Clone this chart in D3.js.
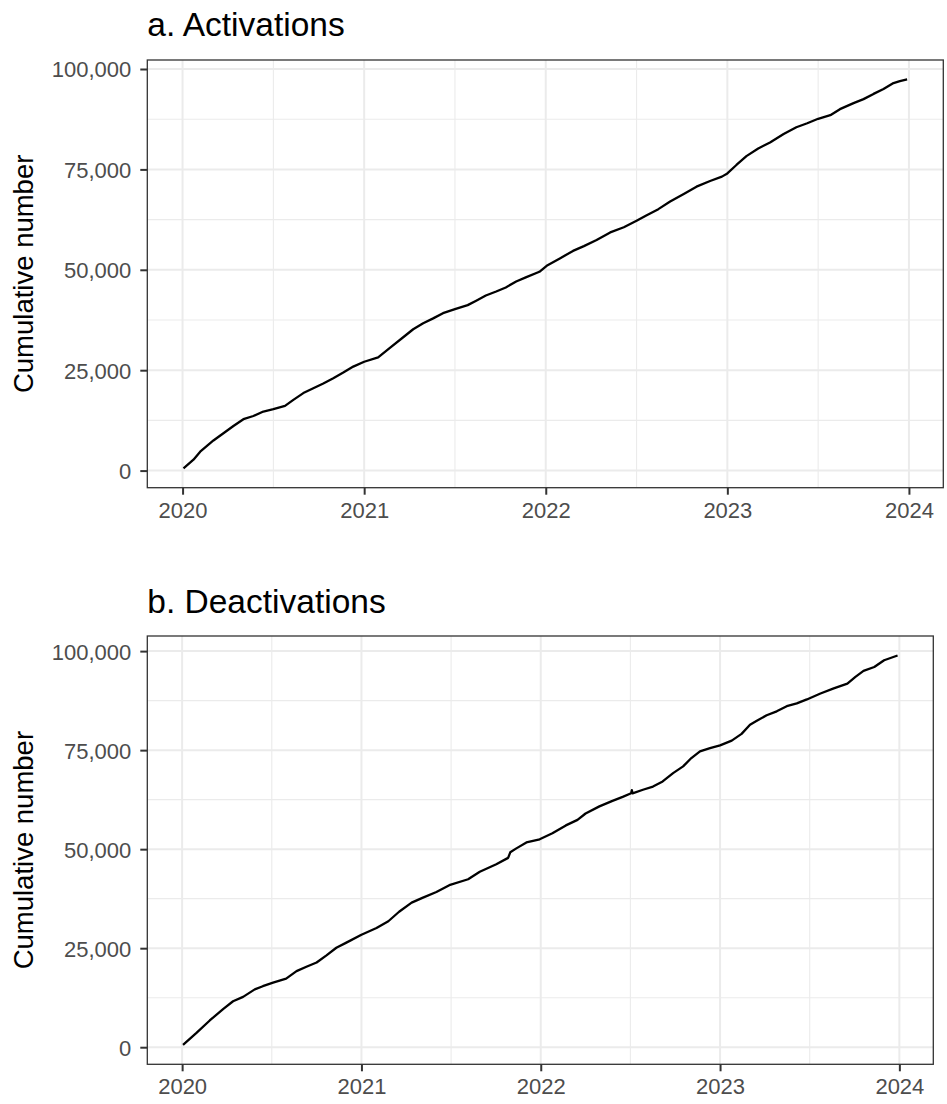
<!DOCTYPE html>
<html>
<head>
<meta charset="utf-8">
<script src="https://cdn.jsdelivr.net/npm/d3@7"></script>
<style>
  html, body { margin: 0; padding: 0; background: #fff; }
  svg { display: block; font-family: "Liberation Sans", Arial, sans-serif; }
</style>
</head>
<body>
<svg id="chart" width="947" height="1104"></svg>
<script>
// ---- Data (decimal years, cumulative counts) ----
const actYears = [2020.005, 2020.06, 2020.097, 2020.17, 2020.225, 2020.28, 2020.335, 2020.39, 2020.445, 2020.5,
  2020.564, 2020.61, 2020.665, 2020.72, 2020.775, 2020.83, 2020.885, 2020.94, 2021.0, 2021.077,
  2021.14, 2021.215, 2021.27, 2021.325, 2021.38, 2021.434, 2021.5, 2021.57, 2021.617, 2021.67,
  2021.727, 2021.78, 2021.837, 2021.89, 2021.965, 2022.005, 2022.08, 2022.15, 2022.21, 2022.28,
  2022.355, 2022.43, 2022.5, 2022.556, 2022.62, 2022.685, 2022.76, 2022.83, 2022.905, 2022.97,
  2023.0, 2023.05, 2023.105, 2023.17, 2023.235, 2023.31, 2023.38, 2023.44, 2023.5, 2023.567,
  2023.62, 2023.695, 2023.75, 2023.805, 2023.86, 2023.915, 2023.95, 2023.99];
const actValues = [580, 2700, 4700, 7500, 9300, 11100, 12800, 13600, 14700, 15300,
  16100, 17600, 19300, 20500, 21700, 23000, 24400, 25900, 27100, 28200,
  30500, 33200, 35200, 36700, 37900, 39200, 40200, 41200, 42300, 43600,
  44600, 45600, 47100, 48100, 49500, 51000, 52900, 54700, 55900, 57400,
  59300, 60600, 62200, 63600, 65100, 67000, 68900, 70700, 72100, 73200,
  74000, 76100, 78300, 80200, 81700, 83800, 85500, 86500, 87600, 88500,
  90000, 91500, 92500, 93800, 95000, 96500, 97000, 97400];

const deaYears = [2020.005, 2020.08, 2020.154, 2020.23, 2020.284, 2020.34, 2020.405, 2020.45, 2020.507, 2020.58,
  2020.638, 2020.693, 2020.75, 2020.805, 2020.86, 2020.916, 2021.0, 2021.084, 2021.15, 2021.21,
  2021.28, 2021.34, 2021.418, 2021.49, 2021.595, 2021.66, 2021.752, 2021.818, 2021.83, 2021.864,
  2021.92, 2021.994, 2022.065, 2022.14, 2022.205, 2022.25, 2022.327, 2022.4, 2022.457, 2022.504,
  2022.508, 2022.512, 2022.57, 2022.626, 2022.68, 2022.738, 2022.794, 2022.84, 2022.888, 2022.944,
  2023.0, 2023.065, 2023.12, 2023.167, 2023.205, 2023.26, 2023.316, 2023.372, 2023.428, 2023.484,
  2023.56, 2023.634, 2023.71, 2023.755, 2023.8, 2023.86, 2023.915, 2023.99];
const deaValues = [600, 3600, 6750, 9700, 11600, 12700, 14600, 15400, 16300, 17300,
  19200, 20300, 21400, 23200, 25100, 26400, 28400, 30100, 31800, 34200,
  36500, 37700, 39200, 40900, 42400, 44300, 46200, 47800, 49200, 50200,
  51700, 52500, 54000, 56000, 57400, 59000, 60800, 62200, 63200, 64100,
  64900, 64100, 65000, 65800, 67100, 69200, 70900, 73000, 74700, 75500,
  76200, 77400, 79100, 81400, 82400, 83800, 84800, 86100, 86800, 87800,
  89300, 90600, 91800, 93500, 95000, 96000, 97700, 98900];

const panelTitles = ["a. Activations", "b. Deactivations"];
const yTitle = "Cumulative number";
const xTickValues = [2020, 2021, 2022, 2023, 2024];
const yTickValues = [0, 25000, 50000, 75000, 100000];

// ---- Drawing ----
const svg = d3.select("#chart");
const panels = [
  { title: panelTitles[0], years: actYears, values: actValues, left: 147.3, right: 943.3, top: 60, bottom: 487.7, titleY: 36 },
  { title: panelTitles[1], years: deaYears, values: deaValues, left: 147.3, right: 933.3, top: 636, bottom: 1064.3, titleY: 613 }
];

function expand(ext, frac) {
  const d = ext[1] - ext[0];
  return [ext[0] - d * frac, ext[1] + d * frac];
}

panels.forEach(p => {
  const data = p.years.map((y, i) => ({ x: y, y: p.values[i] }));
  const x = d3.scaleLinear().domain(expand(d3.extent(p.years), 0.05)).range([p.left, p.right]);
  const y = d3.scaleLinear().domain(expand(d3.extent(p.values), 0.05)).range([p.bottom, p.top]);

  const g = svg.append("g");

  // panel background
  g.append("rect").attr("x", p.left).attr("y", p.top)
    .attr("width", p.right - p.left).attr("height", p.bottom - p.top).attr("fill", "#fff");

  // minor grid
  const xMinor = [2019.5, 2020.5, 2021.5, 2022.5, 2023.5, 2024.5].filter(v => x(v) > p.left && x(v) < p.right);
  const yMinor = [-12500, 12500, 37500, 62500, 87500, 112500].filter(v => y(v) > p.top && y(v) < p.bottom);
  g.selectAll(".xminor").data(xMinor).join("line")
    .attr("x1", d => x(d)).attr("x2", d => x(d)).attr("y1", p.top).attr("y2", p.bottom)
    .attr("stroke", "#EBEBEB").attr("stroke-width", 1.1);
  g.selectAll(".yminor").data(yMinor).join("line")
    .attr("y1", d => y(d)).attr("y2", d => y(d)).attr("x1", p.left).attr("x2", p.right)
    .attr("stroke", "#EBEBEB").attr("stroke-width", 1.1);

  // major grid
  g.selectAll(".xmajor").data(xTickValues).join("line")
    .attr("x1", d => x(d)).attr("x2", d => x(d)).attr("y1", p.top).attr("y2", p.bottom)
    .attr("stroke", "#EBEBEB").attr("stroke-width", 2);
  g.selectAll(".ymajor").data(yTickValues).join("line")
    .attr("y1", d => y(d)).attr("y2", d => y(d)).attr("x1", p.left).attr("x2", p.right)
    .attr("stroke", "#EBEBEB").attr("stroke-width", 2);

  // line
  const line = d3.line().x(d => x(d.x)).y(d => y(d.y)).curve(d3.curveLinear);
  g.append("path").datum(data).attr("d", line)
    .attr("fill", "none").attr("stroke", "#000").attr("stroke-width", 2.3)
    .attr("stroke-linejoin", "round").attr("stroke-linecap", "butt");

  // panel border
  g.append("rect").attr("x", p.left).attr("y", p.top)
    .attr("width", p.right - p.left).attr("height", p.bottom - p.top)
    .attr("fill", "none").attr("stroke", "#333333").attr("stroke-width", 1.3);

  // axes
  const xAxis = d3.axisBottom(x).tickValues(xTickValues).tickFormat(d3.format("d")).tickSize(7).tickPadding(7);
  const gx = g.append("g").attr("transform", `translate(0,${p.bottom})`).call(xAxis);
  gx.select(".domain").remove();
  gx.selectAll(".tick line").attr("stroke", "#333333").attr("stroke-width", 2);
  gx.selectAll(".tick text").attr("fill", "#4D4D4D").attr("font-size", 22)
    .attr("font-family", "'Liberation Sans', Arial, sans-serif").attr("dy", "0.72em");

  const yAxis = d3.axisLeft(y).tickValues(yTickValues).tickFormat(d3.format(",")).tickSize(7).tickPadding(9);
  const gy = g.append("g").attr("transform", `translate(${p.left},0)`).call(yAxis);
  gy.select(".domain").remove();
  gy.selectAll(".tick line").attr("stroke", "#333333").attr("stroke-width", 2);
  gy.selectAll(".tick text").attr("fill", "#4D4D4D").attr("font-size", 22)
    .attr("font-family", "'Liberation Sans', Arial, sans-serif").attr("dy", "0.36em");

  // title
  g.append("text").attr("x", p.left).attr("y", p.titleY)
    .attr("font-size", 33.5).attr("fill", "#000").text(p.title);

  // y axis title
  const cy = (p.top + p.bottom) / 2;
  g.append("text").attr("transform", `translate(33,${cy}) rotate(-90)`)
    .attr("text-anchor", "middle").attr("font-size", 27.5).attr("fill", "#000").text(yTitle);
});
</script>
</body>
</html>
